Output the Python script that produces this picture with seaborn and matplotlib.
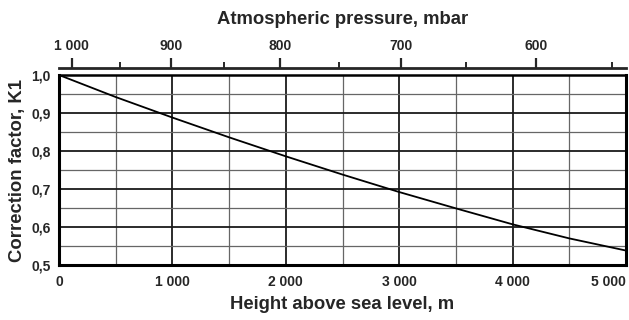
import matplotlib
matplotlib.use("Agg")
import matplotlib.pyplot as plt
import matplotlib.font_manager as fm
import seaborn as sns
import pandas as pd
from matplotlib.ticker import FixedLocator, MultipleLocator

# ---- data ----
height_m = [0, 500, 1000, 1500, 2000, 2500, 3000, 3500, 4000, 4500, 5000]
k1 = [1.0, 0.942, 0.888, 0.836, 0.786, 0.738, 0.692, 0.649, 0.607, 0.570, 0.538]

x_ticks = [0, 1000, 2000, 3000, 4000, 5000]
x_tick_labels = ["0", "1 000", "2 000", "3 000", "4 000", "5 000"]
y_ticks = [0.5, 0.6, 0.7, 0.8, 0.9, 1.0]
y_tick_labels = ["0,5", "0,6", "0,7", "0,8", "0,9", "1,0"]

pressure_labels = ["1 000", "900", "800", "700", "600"]
pressure_heights = [111, 989, 1949, 3012, 4206]          # height (m) where each pressure tick sits
pressure_minor_heights = [540, 1457, 2465, 3590, 4877]   # 950, 850, 750, 650, 550 mbar

sns.set_style("white")
plt.rcParams["font.family"] = ["Liberation Sans", "DejaVu Sans"]

tick_fp = fm.FontProperties(family=["Liberation Sans", "DejaVu Sans"], weight="bold", size=10)

fig = plt.figure(figsize=(6.29, 3.20), dpi=100)
ax = fig.add_axes([59 / 629, 55 / 320, 567 / 629, 190 / 320])

df = pd.DataFrame({"Height": height_m, "K1": k1})
sns.lineplot(data=df, x="Height", y="K1", ax=ax, color="black", linewidth=1.3, zorder=5)

ax.set_xlim(0, 5000)
ax.set_ylim(0.5, 1.0)

ax.xaxis.set_major_locator(FixedLocator(x_ticks))
ax.set_xticklabels(x_tick_labels, fontproperties=tick_fp)
ax.get_xticklabels()[-1].set_horizontalalignment("right")
ax.yaxis.set_major_locator(FixedLocator(y_ticks))
ax.set_yticklabels(y_tick_labels, fontproperties=tick_fp)
ax.xaxis.set_minor_locator(MultipleLocator(500))
ax.yaxis.set_minor_locator(MultipleLocator(0.05))
ax.tick_params(which="both", length=0)
ax.tick_params(axis="y", pad=6)
ax.tick_params(axis="x", pad=7)

ax.grid(which="major", color="#1a1a1a", linewidth=1.3)
ax.grid(which="minor", color="#666666", linewidth=0.9)
ax.set_axisbelow(True)

for s in ["left", "bottom", "right", "top"]:
    ax.spines[s].set_visible(True)
    ax.spines[s].set_color("black")
    ax.spines[s].set_linewidth(2.2)
ax.spines["top"].set_linewidth(1.8)

ax.set_xlabel("Height above sea level, m", fontsize=13.3, fontweight="bold", labelpad=5)
ax.set_ylabel("Correction factor, K1", fontsize=13.3, fontweight="bold", labelpad=4)

# top pressure axis
ax2 = ax.twiny()
ax2.set_xlim(0, 5000)
ax2.spines["top"].set_position(("outward", 5))
ax2.spines["top"].set_linewidth(2.0)
for s in ["left", "bottom", "right"]:
    ax2.spines[s].set_visible(False)
ax2.xaxis.set_major_locator(FixedLocator(pressure_heights))
ax2.set_xticklabels(pressure_labels, fontproperties=tick_fp)
ax2.xaxis.set_minor_locator(FixedLocator(pressure_minor_heights))
ax2.tick_params(axis="x", which="major", direction="out", length=7, width=1.6, pad=4)
ax2.tick_params(axis="x", which="minor", direction="out", length=4, width=1.4)
ax2.grid(False)
ax2.set_xlabel("Atmospheric pressure, mbar", fontsize=13.3, fontweight="bold", labelpad=11)

fig.savefig("out.png", dpi=100)
